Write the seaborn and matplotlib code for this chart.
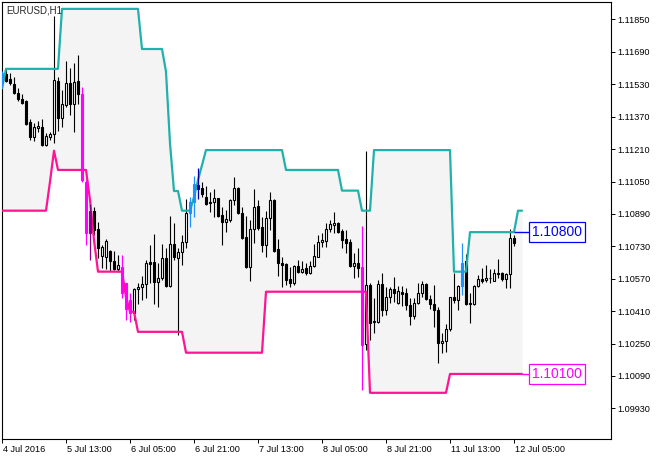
import numpy as np
import matplotlib
matplotlib.use("Agg")
import matplotlib.pyplot as plt
import seaborn as sns
from matplotlib.transforms import ScaledTranslation

# EURUSD H1 candles, bar 0 = 4 Jul 21:00, bar 128 = 12 Jul 05:00
opens = [1.11535, 1.11581, 1.11555, 1.11532, 1.11485, 1.11457, 1.11448, 1.11342, 1.11271, 1.11313,
         1.11321, 1.11230, 1.11271, 1.11285, 1.11546, 1.11362, 1.11428, 1.11535, 1.11431, 1.11546,
         1.11480, 1.11049, 1.10794, 1.10904, 1.10814, 1.10682, 1.10679, 1.10708, 1.10659, 1.10616,
         1.10629, 1.10547, 1.10465, 1.10399, 1.10517, 1.10527, 1.10544, 1.10652, 1.10651, 1.10555,
         1.10572, 1.10670, 1.10534, 1.10740, 1.10670, 1.10703, 1.10753, 1.10893, 1.10947, 1.11032,
         1.11016, 1.10972, 1.10950, 1.10950, 1.10967, 1.10884, 1.10851, 1.10860, 1.10958, 1.11016,
         1.10896, 1.10774, 1.10629, 1.10814, 1.10929, 1.10823, 1.10736, 1.10868, 1.10958, 1.10716,
         1.10646, 1.10642, 1.10567, 1.10547, 1.10632, 1.10605, 1.10624, 1.10600, 1.10634, 1.10679,
         1.10753, 1.10758, 1.10814, 1.10835, 1.10843, 1.10805, 1.10764, 1.10749, 1.10634, 1.10646,
         1.10629, 1.10247, 1.10539, 1.10358, 1.10358, 1.10544, 1.10418, 1.10478, 1.10517, 1.10451,
         1.10506, 1.10498, 1.10440, 1.10386, 1.10448, 1.10502, 1.10544, 1.10468, 1.10445, 1.10418,
         1.10251, 1.10264, 1.10320, 1.10481, 1.10465, 1.10534, 1.10660, 1.10445, 1.10445, 1.10534,
         1.10567, 1.10563, 1.10572, 1.10560, 1.10600, 1.10600, 1.10567, 1.10593, 1.10769]
highs = [1.11597, 1.11609, 1.11587, 1.11564, 1.11510, 1.11480, 1.11453, 1.11359, 1.11337, 1.11350,
         1.11359, 1.11288, 1.11296, 1.11869, 1.11568, 1.11502, 1.11645, 1.11609, 1.11634, 1.11675,
         1.11515, 1.11057, 1.10939, 1.10926, 1.10851, 1.10736, 1.10764, 1.10711, 1.10708, 1.10687,
         1.10687, 1.10550, 1.10498, 1.10522, 1.10547, 1.10583, 1.10662, 1.10736, 1.10791, 1.10646,
         1.10740, 1.10720, 1.10879, 1.10846, 1.10720, 1.10786, 1.10962, 1.10975, 1.11077, 1.11115,
         1.11049, 1.11029, 1.10996, 1.11011, 1.10970, 1.10926, 1.10909, 1.10962, 1.11074, 1.11024,
         1.10922, 1.10879, 1.10860, 1.11011, 1.10958, 1.10876, 1.10906, 1.10996, 1.10962, 1.10766,
         1.10675, 1.10646, 1.10629, 1.10637, 1.10662, 1.10657, 1.10649, 1.10657, 1.10740, 1.10786,
         1.10794, 1.10843, 1.10860, 1.10899, 1.10851, 1.10814, 1.10810, 1.10764, 1.10698, 1.10720,
         1.10830, 1.11202, 1.10547, 1.10473, 1.10563, 1.10596, 1.10527, 1.10527, 1.10577, 1.10534,
         1.10534, 1.10522, 1.10473, 1.10473, 1.10550, 1.10560, 1.10547, 1.10489, 1.10539, 1.10432,
         1.10300, 1.10346, 1.10481, 1.10600, 1.10539, 1.10748, 1.10692, 1.10498, 1.10539, 1.10588,
         1.10621, 1.10637, 1.10616, 1.10616, 1.10665, 1.10605, 1.10600, 1.10814, 1.10786]
lows = [1.11510, 1.11543, 1.11527, 1.11480, 1.11449, 1.11433, 1.11329, 1.11255, 1.11252, 1.11296,
        1.11227, 1.11227, 1.11255, 1.11239, 1.11301, 1.11318, 1.11420, 1.11378, 1.11296, 1.11431,
        1.11049, 1.10736, 1.10662, 1.10786, 1.10670, 1.10621, 1.10616, 1.10609, 1.10613, 1.10605,
        1.10473, 1.10366, 1.10358, 1.10366, 1.10445, 1.10465, 1.10476, 1.10547, 1.10445, 1.10432,
        1.10563, 1.10527, 1.10530, 1.10662, 1.10292, 1.10637, 1.10720, 1.10827, 1.10873, 1.10962,
        1.10975, 1.10934, 1.10901, 1.10876, 1.10876, 1.10736, 1.10802, 1.10851, 1.10934, 1.10889,
        1.10764, 1.10621, 1.10558, 1.10744, 1.10810, 1.10703, 1.10675, 1.10810, 1.10703, 1.10583,
        1.10530, 1.10539, 1.10527, 1.10539, 1.10600, 1.10596, 1.10588, 1.10593, 1.10629, 1.10675,
        1.10725, 1.10725, 1.10802, 1.10794, 1.10794, 1.10720, 1.10695, 1.10629, 1.10572, 1.10580,
        1.10020, 1.10218, 1.10267, 1.10300, 1.10353, 1.10386, 1.10391, 1.10448, 1.10456, 1.10445,
        1.10435, 1.10415, 1.10341, 1.10369, 1.10445, 1.10478, 1.10465, 1.10423, 1.10330, 1.10155,
        1.10205, 1.10210, 1.10313, 1.10448, 1.10418, 1.10489, 1.10440, 1.10353, 1.10440, 1.10527,
        1.10547, 1.10555, 1.10550, 1.10558, 1.10572, 1.10560, 1.10522, 1.10522, 1.10731]
closes = [1.11584, 1.11548, 1.11535, 1.11485, 1.11456, 1.11436, 1.11334, 1.11271, 1.11321, 1.11324,
          1.11230, 1.11275, 1.11285, 1.11551, 1.11362, 1.11433, 1.11535, 1.11431, 1.11540, 1.11480,
          1.11057, 1.10794, 1.10904, 1.10810, 1.10720, 1.10728, 1.10758, 1.10659, 1.10616, 1.10637,
          1.10498, 1.10423, 1.10399, 1.10517, 1.10530, 1.10544, 1.10646, 1.10642, 1.10555, 1.10572,
          1.10670, 1.10534, 1.10740, 1.10675, 1.10700, 1.10753, 1.10893, 1.10950, 1.11037, 1.11011,
          1.10988, 1.10939, 1.10942, 1.10967, 1.10879, 1.10851, 1.10865, 1.10958, 1.11016, 1.10896,
          1.10772, 1.10626, 1.10814, 1.10926, 1.10822, 1.10736, 1.10868, 1.10958, 1.10708, 1.10646,
          1.10637, 1.10563, 1.10550, 1.10632, 1.10605, 1.10618, 1.10600, 1.10634, 1.10682, 1.10753,
          1.10761, 1.10814, 1.10840, 1.10843, 1.10802, 1.10761, 1.10748, 1.10634, 1.10646, 1.10624,
          1.10242, 1.10539, 1.10353, 1.10363, 1.10544, 1.10415, 1.10481, 1.10517, 1.10501, 1.10511,
          1.10494, 1.10440, 1.10386, 1.10448, 1.10502, 1.10544, 1.10468, 1.10445, 1.10418, 1.10251,
          1.10264, 1.10320, 1.10481, 1.10465, 1.10534, 1.10646, 1.10445, 1.10451, 1.10534, 1.10567,
          1.10560, 1.10572, 1.10575, 1.10600, 1.10593, 1.10567, 1.10593, 1.10769, 1.10748]

# channel lines (drawn two bars past the last candle)
upper = [1.11510, 1.11606, 1.11606, 1.11606, 1.11606, 1.11606, 1.11606, 1.11606, 1.11606, 1.11606,
         1.11606, 1.11606, 1.11606, 1.11606, 1.11606, 1.11902, 1.11902, 1.11902, 1.11902, 1.11902,
         1.11902, 1.11902, 1.11902, 1.11902, 1.11902, 1.11902, 1.11902, 1.11902, 1.11902, 1.11902,
         1.11902, 1.11902, 1.11902, 1.11902, 1.11902, 1.11704, 1.11704, 1.11704, 1.11704, 1.11704,
         1.11704, 1.11592, 1.11239, 1.11003, 1.11003, 1.10906, 1.10906, 1.10906, 1.10973, 1.11057,
         1.11131, 1.11205, 1.11205, 1.11205, 1.11205, 1.11205, 1.11205, 1.11205, 1.11205, 1.11205,
         1.11205, 1.11205, 1.11205, 1.11205, 1.11205, 1.11205, 1.11205, 1.11205, 1.11205, 1.11205,
         1.11205, 1.11107, 1.11107, 1.11107, 1.11107, 1.11107, 1.11107, 1.11107, 1.11107, 1.11107,
         1.11107, 1.11107, 1.11107, 1.11107, 1.11107, 1.11005, 1.11005, 1.11005, 1.11005, 1.11005,
         1.10906, 1.10906, 1.10906, 1.11205, 1.11205, 1.11205, 1.11205, 1.11205, 1.11205, 1.11205,
         1.11205, 1.11205, 1.11205, 1.11205, 1.11205, 1.11205, 1.11205, 1.11205, 1.11205, 1.11205,
         1.11205, 1.11205, 1.11205, 1.10605, 1.10605, 1.10605, 1.10605, 1.10800, 1.10800, 1.10800,
         1.10800, 1.10800, 1.10800, 1.10800, 1.10800, 1.10800, 1.10800, 1.10800, 1.10800, 1.10906,
         1.10906]
lower = [1.10906, 1.10906, 1.10906, 1.10906, 1.10906, 1.10906, 1.10906, 1.10906, 1.10906, 1.10906,
         1.10906, 1.10906, 1.11049, 1.11202, 1.11107, 1.11107, 1.11107, 1.11107, 1.11107, 1.11107,
         1.11107, 1.11107, 1.10959, 1.10761, 1.10605, 1.10605, 1.10605, 1.10605, 1.10605, 1.10605,
         1.10605, 1.10481, 1.10407, 1.10407, 1.10308, 1.10308, 1.10308, 1.10308, 1.10308, 1.10308,
         1.10308, 1.10308, 1.10308, 1.10308, 1.10308, 1.10308, 1.10205, 1.10205, 1.10205, 1.10205,
         1.10205, 1.10205, 1.10205, 1.10205, 1.10205, 1.10205, 1.10205, 1.10205, 1.10205, 1.10205,
         1.10205, 1.10205, 1.10205, 1.10205, 1.10205, 1.10205, 1.10506, 1.10506, 1.10506, 1.10506,
         1.10506, 1.10506, 1.10506, 1.10506, 1.10506, 1.10506, 1.10506, 1.10506, 1.10506, 1.10506,
         1.10506, 1.10506, 1.10506, 1.10506, 1.10506, 1.10506, 1.10506, 1.10506, 1.10506, 1.10506,
         1.10506, 1.10506, 1.10007, 1.10007, 1.10007, 1.10007, 1.10007, 1.10007, 1.10007, 1.10007,
         1.10007, 1.10007, 1.10007, 1.10007, 1.10007, 1.10007, 1.10007, 1.10007, 1.10007, 1.10007,
         1.10007, 1.10007, 1.10100, 1.10100, 1.10100, 1.10100, 1.10100, 1.10100, 1.10100, 1.10100,
         1.10100, 1.10100, 1.10100, 1.10100, 1.10100, 1.10100, 1.10100, 1.10100, 1.10100, 1.10100,
         1.10100]

# bars painted by the breakout histogram
up_break = [0, 47, 48, 49, 115]
down_break = [20, 21, 22, 30, 31, 32, 90]

level_values = [1.10800, 1.10100]
level_texts = ["1.10800", "1.10100"]
level_colors = ["#0000FF", "#FF00FF"]

ytick_vals = [1.09930, 1.10090, 1.10250, 1.10410, 1.10570, 1.10730, 1.10890,
              1.11050, 1.11210, 1.11370, 1.11530, 1.11690, 1.11850]
xtick_bars = [0, 16, 32, 48, 64, 80, 96, 112, 128]
xtick_labels = ["4 Jul 2016", "5 Jul 13:00", "6 Jul 05:00", "6 Jul 21:00", "7 Jul 13:00",
                "8 Jul 05:00", "8 Jul 21:00", "11 Jul 13:00", "12 Jul 05:00"]

sns.set_style("white")
plt.rcParams["font.family"] = ["Liberation Sans", "DejaVu Sans"]

fig = plt.figure(figsize=(6.63, 4.59), dpi=100)
ax = fig.add_axes([2 / 663, 1 - 439 / 459, 609 / 663, 437 / 459])

o = np.array(opens)
h = np.array(highs)
l = np.array(lows)
c = np.array(closes)
bars = np.arange(len(o))
chan_x = np.arange(len(upper))

# channel band + lines
ax.fill_between(chan_x, lower, upper, color="#F4F4F4", lw=0, zorder=0)
sns.lineplot(x=chan_x, y=upper, color="#20B2AA", lw=1.6, ax=ax, zorder=5)
sns.lineplot(x=chan_x, y=lower, color="#FF1493", lw=1.6, ax=ax, zorder=5)

# candles
bull = c >= o
face = np.where(bull, "white", "black").astype(object)
edge = np.array(["black"] * len(o), dtype=object)
wick = np.array(["black"] * len(o), dtype=object)
for i in up_break:
    col = "#1E90FF" if bull[i] else "#0000A0"
    face[i] = edge[i] = wick[i] = col
for i in down_break:
    col = "#8B008B" if bull[i] else "#FF00FF"
    face[i] = edge[i] = wick[i] = col

plain = [i for i in bars if i not in up_break + down_break]
hist = up_break + down_break
body_h = np.maximum(np.abs(c - o), 0.000012)
body_b = np.minimum(o, c)

ax.vlines(bars[plain], l[plain], h[plain], colors=list(wick[plain]), lw=0.8, zorder=3)
ax.bar(bars[plain], body_h[plain], bottom=body_b[plain], width=0.55,
       color=list(face[plain]), edgecolor=list(edge[plain]), lw=0.8, zorder=4)
ax.vlines(bars[hist], l[hist], h[hist], colors=list(wick[hist]), lw=0.9, zorder=6)
ax.bar(bars[hist], body_h[hist], bottom=body_b[hist], width=0.6,
       color=list(face[hist]), edgecolor=list(edge[hist]), lw=0.8, zorder=6)

# price level labels at the right
ax.hlines(level_values[0], bars[-1], 132, color=level_colors[0], lw=1, zorder=6)
ax.hlines(level_values[1], chan_x[-1], 132, color=level_colors[1], lw=1, zorder=6)
for val, txt, col in zip(level_values, level_texts, level_colors):
    ax.text(132.4, val, txt, color=col, fontsize=10, ha="left", va="center", zorder=7,
            bbox=dict(boxstyle="square,pad=0.22", fc="white", ec=col, lw=0.9))

ax.text(0.007, 0.991, "EURUSD,H1", transform=ax.transAxes, fontsize=7,
        ha="left", va="top", zorder=8)

ax.set_xlim(0, 152.25)
ax.set_ylim(1.09779, 1.11936)

ax.yaxis.tick_right()
ax.set_yticks(ytick_vals)
ax.set_yticklabels([f"{v:.5f}" for v in ytick_vals], fontsize=6.6)
ax.set_xticks(xtick_bars)
ax.set_xticklabels(xtick_labels, fontsize=6.6)
ax.tick_params(axis="both", direction="out", length=3, width=0.7, color="black",
               labelcolor="black")
ax.tick_params(axis="y", pad=1.5, left=False, right=True)
ax.tick_params(axis="x", pad=1.5, bottom=True)
shift = ScaledTranslation(1 / 100, 0, fig.dpi_scale_trans)
for lab in ax.get_xticklabels():
    lab.set_horizontalalignment("left")
    lab.set_transform(lab.get_transform() + shift)

for sp in ax.spines.values():
    sp.set_color("black")
    sp.set_linewidth(0.8)
    sp.set_visible(True)
ax.set_xlabel("")
ax.set_ylabel("")
ax.grid(False)

fig.savefig("out.png", dpi=100, facecolor="white")
